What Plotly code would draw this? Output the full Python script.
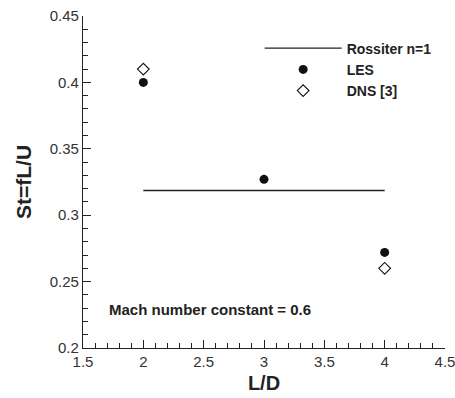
import plotly.graph_objects as go

# Data
rossiter_x = [2, 4]
rossiter_st = [0.3186, 0.3186]
les_x = [2, 3, 4]
les_st = [0.400, 0.327, 0.272]
dns_x = [2, 4]
dns_st = [0.410, 0.260]

x_ticks = [1.5, 2, 2.5, 3, 3.5, 4, 4.5]
x_ticklabels = ["1.5", "2", "2.5", "3", "3.5", "4", "4.5"]
y_ticks = [0.2, 0.25, 0.3, 0.35, 0.4, 0.45]
y_ticklabels = ["0.2", "0.25", "0.3", "0.35", "0.4", "0.45"]

FONT = "Liberation Sans, Arial, sans-serif"

fig = go.Figure()
fig.add_trace(go.Scatter(x=rossiter_x, y=rossiter_st, mode="lines",
                         line=dict(color="#222222", width=1.3),
                         name="<b>Rossiter n=1</b>"))
fig.add_trace(go.Scatter(x=les_x, y=les_st, mode="markers",
                         marker=dict(symbol="circle", size=9, color="#111111"),
                         name="<b>LES</b>"))
fig.add_trace(go.Scatter(x=dns_x, y=dns_st, mode="markers",
                         marker=dict(symbol="diamond-open", size=9, color="#111111",
                                     line=dict(width=1.1, color="#111111")),
                         name="<b>DNS [3]</b>"))

fig.add_annotation(x=1.7, y=0.2288, xref="x", yref="y", xanchor="left", yanchor="middle",
                   text="<b>Mach number constant = 0.6</b>", showarrow=False,
                   font=dict(family=FONT, size=15, color="#222222"))

axis_common = dict(
    showline=True, linecolor="#222222", linewidth=1.2,
    ticks="inside", ticklen=8, tickwidth=1, tickcolor="#222222",
    showgrid=False, zeroline=False, mirror=False,
    tickfont=dict(family=FONT, size=15, color="#333333"),
    ticklabeloverflow="allow", automargin=False,
)

fig.update_xaxes(range=[1.5, 4.5], tickvals=x_ticks, ticktext=x_ticklabels,
                 minor=dict(dtick=0.1, ticks="inside", ticklen=5, tickcolor="#222222", tick0=1.5),
                 title=dict(text="<b>L/D</b>", font=dict(family=FONT, size=20, color="#222222"),
                            standoff=6),
                 **axis_common)
fig.update_yaxes(range=[0.2, 0.45], tickvals=y_ticks, ticktext=y_ticklabels,
                 minor=dict(dtick=0.01, ticks="inside", ticklen=5, tickcolor="#222222", tick0=0.2),
                 title=dict(text="<b>St=fL/U</b>", font=dict(family=FONT, size=21, color="#222222"),
                            standoff=12),
                 **axis_common)

fig.update_layout(
    width=455, height=398,
    margin=dict(l=83, r=10, t=16, b=50, autoexpand=False),
    plot_bgcolor="white", paper_bgcolor="white",
    showlegend=True,
    legend=dict(x=0.488, y=0.95, xanchor="left", yanchor="top",
                bgcolor="rgba(0,0,0,0)", itemwidth=77,
                font=dict(family=FONT, size=14, color="#222222"),
                tracegroupgap=0),
    font=dict(family=FONT),
)

fig.write_html("out.html")
